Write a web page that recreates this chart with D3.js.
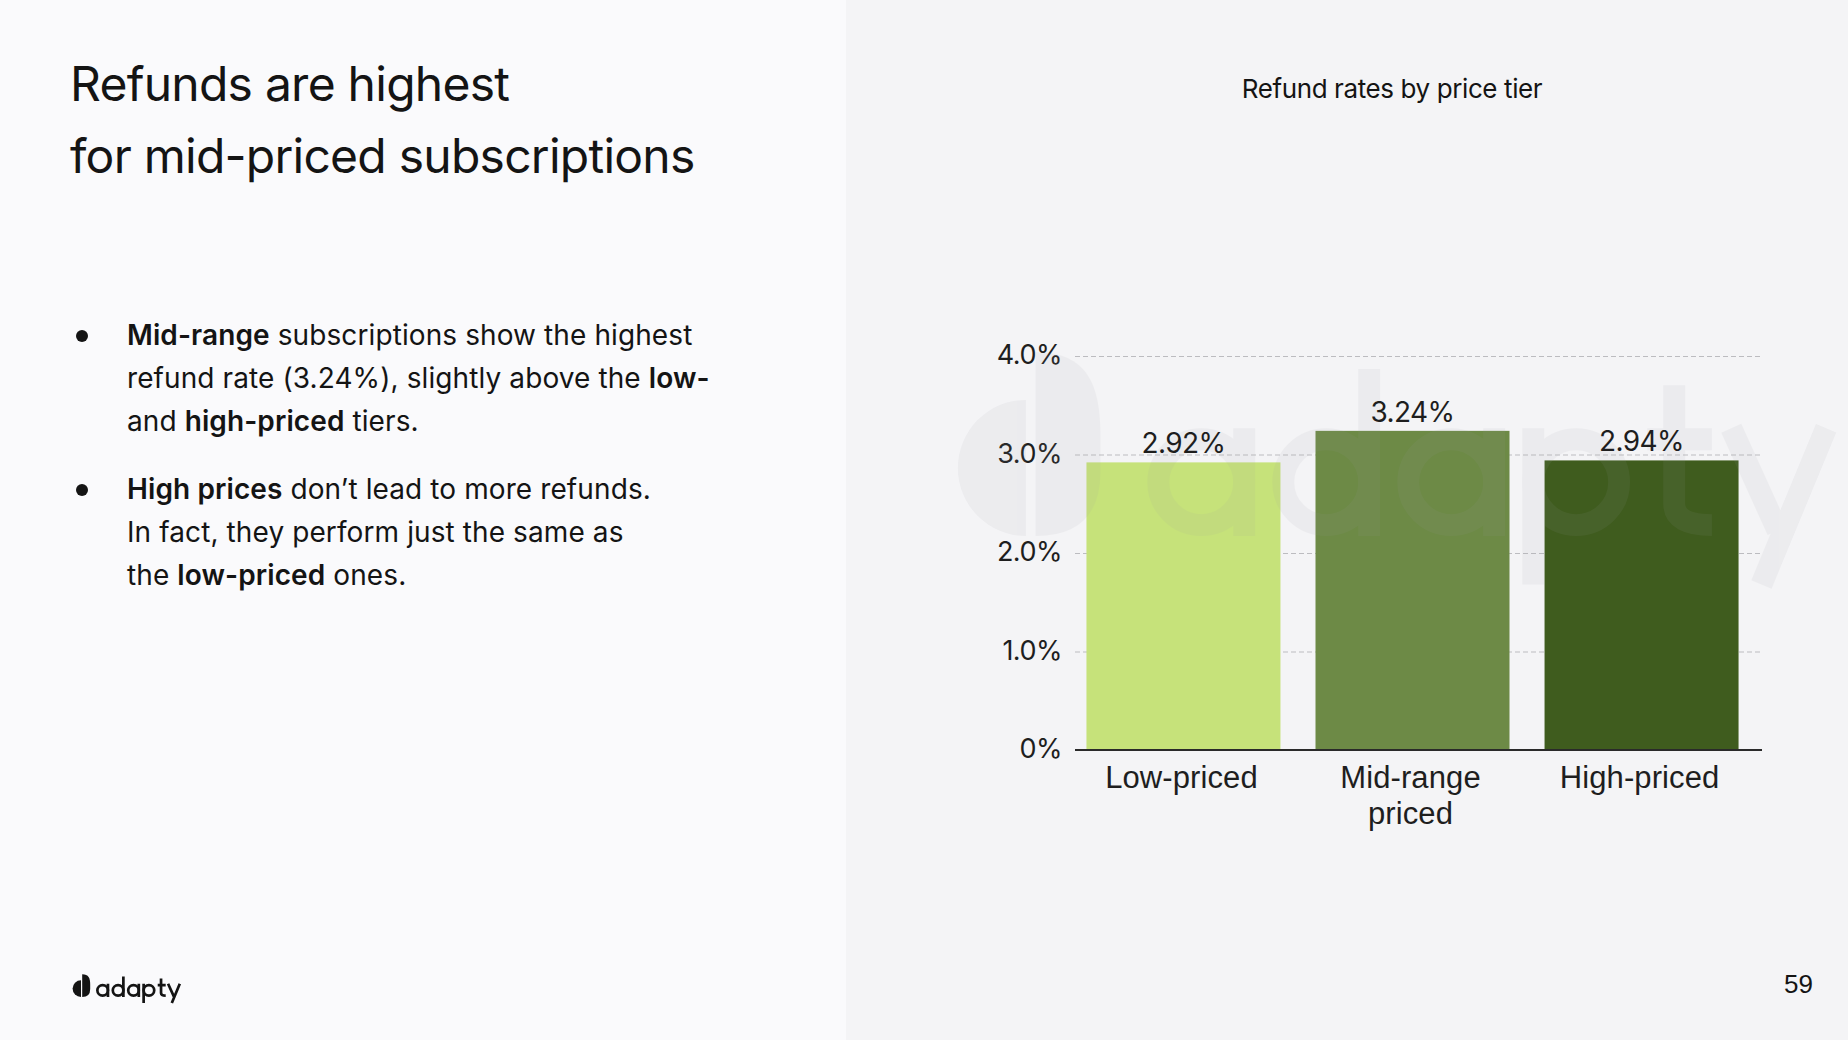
<!DOCTYPE html>
<html>
<head>
<meta charset="utf-8">
<script src="https://cdn.jsdelivr.net/npm/d3@7"></script>
<style>
  html, body { margin: 0; padding: 0; background: #fafafc; }
  svg { display: block; font-family: Inter, 'Noto Sans', sans-serif; }
</style>
</head>
<body>
<svg id="slide" width="1848" height="1040"></svg>
<script>
// data
const tiers = ['Low-priced', 'Mid-range\npriced', 'High-priced']
const refundRates = [2.92, 3.24, 2.94]
const yTicks = [0, 1, 2, 3, 4]
const bullets = [
  [[['Mid-range', true], [' subscriptions show the highest', false]],
   [['refund rate (3.24%), slightly above the ', false], ['low-', true]],
   [['and ', false], ['high-priced', true], [' tiers.', false]]],
  [[['High prices', true], [' don\u2019t lead to more refunds.', false]],
   [['In fact, they perform just the same as', false]],
   [['the ', false], ['low-priced', true], [' ones.', false]]]
]

const barColors = ['#c6e27a', '#6d8a46', '#3f5c1e']
const ink = '#141414'

const svg = d3.select('#slide')

// panels
svg.append('rect').attr('width', 846).attr('height', 1040).attr('fill', '#fafafc')
svg.append('rect').attr('x', 846).attr('width', 1002).attr('height', 1040).attr('fill', '#f4f4f6')

// headline
const headline = svg.append('text')
  .attr('fill', ink)
  .style('font-size', '48px')
  .style('letter-spacing', '-0.75px')
headline.append('tspan').attr('x', 70).attr('y', 101).text('Refunds are highest')
headline.append('tspan').attr('x', 70).attr('y', 173).text('for mid-priced subscriptions')

// bullets
const paraTop = [345, 499]
bullets.forEach((para, i) => {
  svg.append('circle')
    .attr('cx', 82).attr('cy', paraTop[i] - 9).attr('r', 6)
    .attr('fill', ink)
  para.forEach((line, j) => {
    const t = svg.append('text')
      .attr('x', 127).attr('y', paraTop[i] + j * 43)
      .attr('fill', ink)
      .style('font-size', '28px')
      .style('letter-spacing', '0.1px')
    line.forEach(([txt, bold]) => {
      t.append('tspan')
        .style('font-weight', bold ? 600 : 400)
        .text(txt)
    })
  })
})

// adapty mark: icon + lettering, drawn from strokes
const drawLogo = (g, ox, oy, s, color) => {
  // icon
  g.append('path')
    .attr('d', `M${ox + 9 * s},${oy - 16.8 * s} A${8.4 * s},${8.4 * s} 0 0 0 ${ox + 9 * s},${oy} Z`)
    .attr('fill', color)
  const x0 = ox + 10.2 * s
  const w = 8 * s
  const top = oy - 22.7 * s
  g.append('path')
    .attr('d', `M${x0},${top} C${x0 + w * 0.8},${top} ${x0 + w},${top + w * 0.5} ${x0 + w},${top + w * 1.3}
      L${x0 + w},${oy - w} Q${x0 + w},${oy} ${x0},${oy} Z`)
    .attr('fill', color)

  // letters
  const h = 13.3 * s
  const sw = 2.7 * s
  const r = h / 2 - sw / 2
  const gap = 0.16 * h
  let x = ox + 24 * s
  const lines = []
  const bowl = cx => g.append('circle')
    .attr('cx', cx).attr('cy', oy - h / 2).attr('r', r)
    .attr('fill', 'none').attr('stroke', color).attr('stroke-width', sw)
  const stroke = d => lines.push(d)
  // a
  bowl(x + h / 2); stroke(`M${x + h - sw / 2},${oy - h} V${oy}`); x += h + gap
  // d
  bowl(x + h / 2); stroke(`M${x + h - sw / 2},${oy - 1.55 * h} V${oy}`); x += h + gap
  // a
  bowl(x + h / 2); stroke(`M${x + h - sw / 2},${oy - h} V${oy}`); x += h + gap
  // p
  bowl(x + h / 2); stroke(`M${x + sw / 2},${oy - h} V${oy + 0.45 * h}`); x += h + gap
  // t
  stroke(`M${x + 0.25 * h},${oy - 1.4 * h} V${oy - 0.3 * h} Q${x + 0.25 * h},${oy - sw / 2} ${x + 0.6 * h},${oy - sw / 2}`)
  stroke(`M${x},${oy - h + sw / 2} H${x + 0.6 * h}`)
  x += 0.6 * h + gap
  // y
  stroke(`M${x + 0.02 * h},${oy - h} L${x + 0.45 * h},${oy - 0.05 * h}`)
  stroke(`M${x + 0.9 * h},${oy - h} L${x + 0.3 * h},${oy + 0.45 * h}`)
  g.append('path')
    .attr('d', lines.join(' '))
    .attr('fill', 'none').attr('stroke', color).attr('stroke-width', sw)
}

drawLogo(svg.append('g'), 72, 997, 1, ink)

// page number
svg.append('text')
  .attr('x', 1813).attr('y', 993)
  .attr('text-anchor', 'end')
  .attr('fill', ink)
  .style('font-family', "'Liberation Sans', Arial, sans-serif")
  .style('font-size', '26px')
  .text('59')

// chart
const plot = { left: 1075, right: 1762, top: 356, bottom: 750 }

const x = d3.scaleBand()
  .domain(tiers)
  .range([plot.left, plot.right - 12])
  .paddingInner(0.153)
  .paddingOuter(0.05)

const y = d3.scaleLinear()
  .domain([0, 4])
  .range([plot.bottom, plot.top])

const fmt = d => d === 0 ? '0%' : d3.format('.1f')(d) + '%'

svg.append('text')
  .attr('x', 1392).attr('y', 98)
  .attr('text-anchor', 'middle')
  .attr('fill', ink)
  .style('font-size', '26px')
  .style('letter-spacing', '-0.4px')
  .text('Refund rates by price tier')

// grid + y labels
const yAxis = svg.append('g')
  .attr('transform', `translate(${plot.left},0)`)
  .call(d3.axisLeft(y).tickValues(yTicks).tickFormat(fmt)
    .tickSizeInner(-(plot.right - plot.left)).tickSizeOuter(0).tickPadding(13))
yAxis.select('.domain').remove()
yAxis.selectAll('.tick line')
  .attr('stroke', '#bcbcc0')
  .attr('stroke-width', 1)
  .attr('stroke-dasharray', '5,3')
yAxis.selectAll('.tick text')
  .attr('fill', '#1e1e1e')
  .attr('dy', '0.28em')
  .style('font-family', 'Inter, sans-serif')
  .style('font-size', '27px')
  .style('letter-spacing', '-0.5px')

// bars
svg.append('g')
  .selectAll('rect')
  .data(refundRates)
  .join('rect')
  .attr('x', (d, i) => x(tiers[i]))
  .attr('y', d => y(d))
  .attr('width', x.bandwidth())
  .attr('height', d => y(0) - y(d))
  .attr('fill', (d, i) => barColors[i])

// faint watermark on top of the bars
drawLogo(svg.append('g').attr('opacity', 0.09), 953, 536, 8.1, '#9c9ca4')

// baseline
const xAxis = svg.append('g')
  .attr('transform', `translate(0,${plot.bottom})`)
  .call(d3.axisBottom(x).tickSize(0).tickPadding(0).tickFormat(''))
xAxis.select('.domain')
  .attr('d', `M${plot.left},0H${plot.right}`)
  .attr('stroke', '#2a2a2a')
  .attr('stroke-width', 2)

// category labels
xAxis.selectAll('.tick').each(function (d) {
  const t = d3.select(this).append('text')
    .attr('text-anchor', 'middle')
    .attr('fill', '#1e1e1e')
    .style('font-size', '31px')
    .style('letter-spacing', '0.1px')
  d.split('\n').forEach((part, k) => {
    t.append('tspan').attr('x', -2).attr('y', 38 + k * 36).text(part)
  })
})

// value labels
svg.append('g')
  .selectAll('text')
  .data(refundRates)
  .join('text')
  .attr('x', (d, i) => x(tiers[i]) + x.bandwidth() / 2)
  .attr('y', d => y(d) - 9)
  .attr('text-anchor', 'middle')
  .attr('fill', '#1e1e1e')
  .style('font-size', '28px')
  .style('letter-spacing', '-0.6px')
  .text(d => d3.format('.2f')(d) + '%')
</script>
</body>
</html>
